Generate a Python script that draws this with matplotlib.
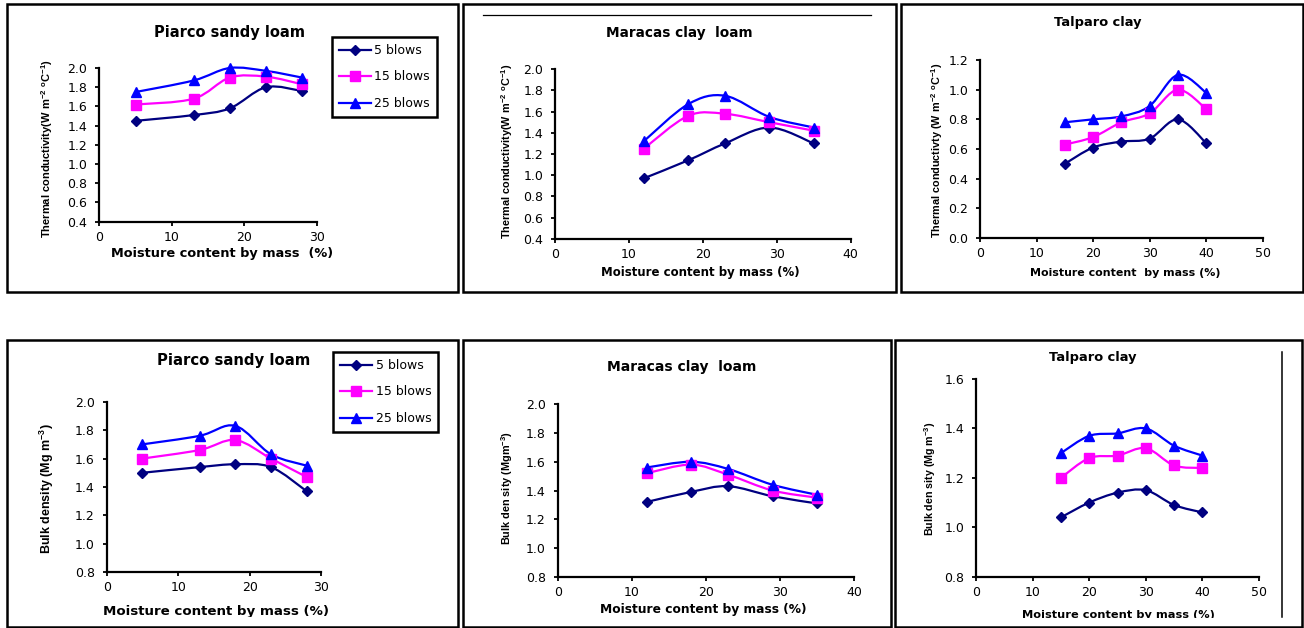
import matplotlib
matplotlib.use('Agg')
import matplotlib.pyplot as plt
from matplotlib.path import Path
from matplotlib.patches import PathPatch, Rectangle
from matplotlib.lines import Line2D
from matplotlib.transforms import Bbox, TransformedBbox
import numpy as np

# ---------------- data ----------------
series_labels = ["5 blows", "15 blows", "25 blows"]

x_piarco = [5, 13, 18, 23, 28]
x_maracas = [12, 18, 23, 29, 35]
x_talparo = [15, 20, 25, 30, 35, 40]

tc_piarco_5 = [1.45, 1.51, 1.58, 1.80, 1.76]
tc_piarco_15 = [1.62, 1.68, 1.90, 1.91, 1.83]
tc_piarco_25 = [1.75, 1.87, 2.00, 1.97, 1.90]

tc_maracas_5 = [0.97, 1.14, 1.30, 1.45, 1.30]
tc_maracas_15 = [1.25, 1.56, 1.58, 1.50, 1.42]
tc_maracas_25 = [1.32, 1.67, 1.75, 1.55, 1.45]

tc_talparo_5 = [0.50, 0.61, 0.65, 0.67, 0.80, 0.64]
tc_talparo_15 = [0.63, 0.68, 0.78, 0.84, 1.00, 0.87]
tc_talparo_25 = [0.78, 0.80, 0.82, 0.89, 1.10, 0.98]

bd_piarco_5 = [1.50, 1.54, 1.56, 1.54, 1.37]
bd_piarco_15 = [1.60, 1.66, 1.73, 1.60, 1.47]
bd_piarco_25 = [1.70, 1.76, 1.83, 1.63, 1.55]

bd_maracas_5 = [1.32, 1.39, 1.43, 1.36, 1.31]
bd_maracas_15 = [1.52, 1.58, 1.51, 1.40, 1.35]
bd_maracas_25 = [1.56, 1.60, 1.55, 1.44, 1.37]

bd_talparo_5 = [1.04, 1.10, 1.14, 1.15, 1.09, 1.06]
bd_talparo_15 = [1.20, 1.28, 1.29, 1.32, 1.25, 1.24]
bd_talparo_25 = [1.30, 1.37, 1.38, 1.40, 1.33, 1.29]

titles = ["Piarco sandy loam", "Maracas clay  loam", "Talparo clay",
          "Piarco sandy loam", "Maracas clay  loam", "Talparo clay"]
ylabels = ["Thermal conductivity(W m$^{-2}$ $^{o}$C$^{-1}$)",
           "Thermal conductivity(W m$^{-2}$ $^{o}$C$^{-1}$)",
           "Thermal conductivty (W m$^{-2}$ $^{o}$C$^{-1}$)",
           "Bulk density (Mg m$^{-3}$)",
           "Bulk den sity (Mgm$^{-3}$)",
           "Bulk den sity (Mg m$^{-3}$)"]
xlabels = ["Moisture content by mass  (%)", "Moisture content by mass (%)",
           "Moisture content  by mass (%)", "Moisture content by mass (%)",
           "Moisture content by mass (%)", "Moisture content by mass (%)"]

# ---------------- style ----------------
colors = ["#000080", "#FF00FF", "#0000FF"]
markers = ["D", "s", "^"]
msizes = [5, 6.5, 7]

W, H = 1304, 628
plt.rcParams['font.family'] = ['DejaVu Sans']
plt.rcParams['mathtext.default'] = 'regular'

fig = plt.figure(figsize=(W / 100, H / 100), dpi=100)


def fx(x):
    return x / W


def fy(y):
    return 1 - y / H


def smooth_path(xs, ys):
    p = np.column_stack([xs, ys]).astype(float)
    n = len(p)
    verts = [p[0]]
    codes = [Path.MOVETO]
    for i in range(n - 1):
        p0 = p[i - 1] if i > 0 else p[i]
        p3 = p[i + 2] if i + 2 < n else p[i + 1]
        c1 = p[i] + (p[i + 1] - p0) / 6
        c2 = p[i + 1] - (p3 - p[i]) / 6
        verts += [c1, c2, p[i + 1]]
        codes += [Path.CURVE4] * 3
    return Path(verts, codes)


panels = [
    dict(x=x_piarco, ys=[tc_piarco_5, tc_piarco_15, tc_piarco_25],
         box=(99.3, 68, 316.7, 221.7), xlim=(0, 30), xt=[0, 10, 20, 30],
         ylim=(0.4, 2.0), frame=(7, 4, 458, 292),
         title=(230, 33, 10.5), xl=(221.7, 254, 9.3), yl=(46.7, 148, 8.0),
         legend=(332, 37), clip=None),
    dict(x=x_maracas, ys=[tc_maracas_5, tc_maracas_15, tc_maracas_25],
         box=(555, 69.3, 850.7, 238.7), xlim=(0, 40), xt=[0, 10, 20, 30, 40],
         ylim=(0.4, 2.0), frame=(463, 4, 895.5, 292),
         title=(679, 33.3, 9.8), xl=(700, 272.3, 8.5), yl=(506.7, 151.5, 7.8),
         legend=None, clip=None),
    dict(x=x_talparo, ys=[tc_talparo_5, tc_talparo_15, tc_talparo_25],
         box=(980, 60, 1262.7, 238), xlim=(0, 50), xt=[0, 10, 20, 30, 40, 50],
         ylim=(0.0, 1.2), frame=(900.5, 4, 1303, 292),
         title=(1098, 22.7, 9.4), xl=(1125.7, 272.7, 7.9), yl=(936.7, 150, 7.8),
         legend=None, clip=None),
    dict(x=x_piarco, ys=[bd_piarco_5, bd_piarco_15, bd_piarco_25],
         box=(106.7, 401.7, 321, 572.3), xlim=(0, 30), xt=[0, 10, 20, 30],
         ylim=(0.8, 2.0), frame=(7, 340, 458, 626.5),
         title=(234, 361, 10.7), xl=(216, 612, 9.6), yl=(46.7, 488.5, 9.0),
         legend=(333, 352), clip=617),
    dict(x=x_maracas, ys=[bd_maracas_5, bd_maracas_15, bd_maracas_25],
         box=(557.7, 404.3, 854, 576.7), xlim=(0, 40), xt=[0, 10, 20, 30, 40],
         ylim=(0.8, 2.0), frame=(463, 340, 891, 626.5),
         title=(681.7, 366.7, 10.0), xl=(703, 610, 8.8), yl=(506.7, 488.5, 7.8),
         legend=None, clip=None),
    dict(x=x_talparo, ys=[bd_talparo_5, bd_talparo_15, bd_talparo_25],
         box=(976, 379, 1259, 576.7), xlim=(0, 50), xt=[0, 10, 20, 30, 40, 50],
         ylim=(0.8, 1.6), frame=(895.5, 340, 1302.5, 626.5),
         title=(1093, 357.7, 9.4), xl=(1118.3, 615, 8.2), yl=(930, 478.5, 7.7),
         legend=None, clip=617.5),
]

for idx, pn in enumerate(panels):
    # frame
    x0, y0, x1, y1 = pn['frame']
    fig.add_artist(Rectangle((fx(x0), fy(y1)), (x1 - x0) / W, (y1 - y0) / H,
                             transform=fig.transFigure, fill=False,
                             lw=1.8, ec='black', zorder=0))
    l, t, r, b = pn['box']
    ax = fig.add_axes([fx(l), fy(b), (r - l) / W, (b - t) / H])
    ax.patch.set_visible(False)
    for s in ['top', 'right']:
        ax.spines[s].set_visible(False)
    for s in ['left', 'bottom']:
        ax.spines[s].set_linewidth(1.6)
        ax.spines[s].set_color('black')
    ax.set_xlim(*pn['xlim'])
    ax.set_ylim(*pn['ylim'])
    ax.set_xticks(pn['xt'])
    yt = np.round(np.arange(pn['ylim'][0], pn['ylim'][1] + 1e-9, 0.2), 1)
    ax.set_yticks(yt)
    ax.set_yticklabels([f"{v:.1f}" for v in yt])
    ax.tick_params(axis='both', direction='out', length=3, width=1.3,
                   labelsize=9, colors='black')
    ax.tick_params(axis='x', pad=3.5)
    ax.tick_params(axis='y', pad=5.5)

    for ys, c, m, ms in zip(pn['ys'], colors, markers, msizes):
        ax.add_patch(PathPatch(smooth_path(pn['x'], ys), fill=False,
                               ec=c, lw=1.6, clip_on=False, zorder=2))
        ax.plot(pn['x'], ys, linestyle='none', marker=m, ms=ms, color=c,
                clip_on=False, zorder=3)

    tx, ty, ts = pn['title']
    fig.text(fx(tx), fy(ty), titles[idx], ha='center', va='center',
             fontsize=ts, fontweight='bold')
    lx, ly, ls = pn['xl']
    txt = fig.text(fx(lx), fy(ly), xlabels[idx], ha='center',
                   va='center', fontsize=ls, fontweight='bold')
    if pn['clip'] is not None:
        cb = TransformedBbox(Bbox([[0, fy(pn['clip'])], [1, 1]]), fig.transFigure)
        txt.set_clip_box(cb)
        txt.set_clip_on(True)
    yx, yy, ys_ = pn['yl']
    fig.text(fx(yx), fy(yy), ylabels[idx], ha='center', va='center',
             rotation=90, fontsize=ys_, fontweight='bold',
             family=['Liberation Sans', 'DejaVu Sans'])

    if pn['legend'] is not None:
        handles = [Line2D([], [], color=c, marker=m, ms=ms, lw=1.6)
                   for c, m, ms in zip(colors, markers, msizes)]
        lg = ax.legend(handles, series_labels, loc='upper left',
                       bbox_to_anchor=(fx(pn['legend'][0]), fy(pn['legend'][1])),
                       bbox_transform=fig.transFigure, borderaxespad=0,
                       frameon=True, fancybox=False, edgecolor='black',
                       framealpha=1, fontsize=9, handlelength=2.6,
                       handletextpad=0.25, labelspacing=1.08, borderpad=0.55)
        lg.get_frame().set_linewidth(1.8)

# extra decorative lines present in the reference
fig.add_artist(Line2D([fx(483), fx(871)], [fy(15.3), fy(15.3)],
                      transform=fig.transFigure, color='black', lw=0.9))
fig.add_artist(Line2D([fx(1281.7), fx(1281.7)], [fy(351.7), fy(616.7)],
                      transform=fig.transFigure, color='black', lw=1.1))

fig.savefig('out.png', dpi=100, facecolor='white')
